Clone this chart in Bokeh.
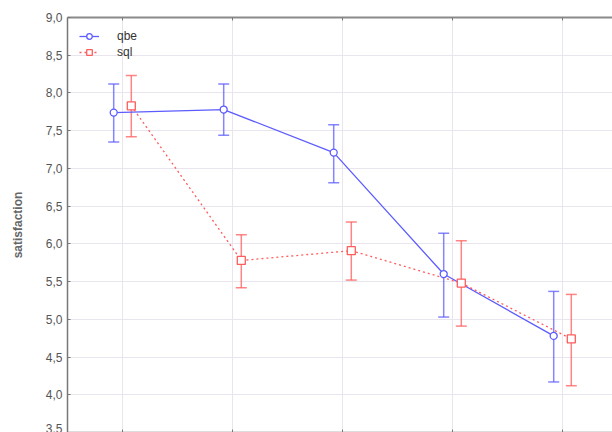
from bokeh.plotting import figure
from bokeh.models import (ColumnDataSource, Range1d, FixedTicker, LinearAxis,
                          Whisker, TeeHead, Legend, LegendItem)
from bokeh.embed import file_html
from bokeh.resources import INLINE

# ---- data ----
categories = [0, 1, 2, 3, 4]
qbe_mean = [7.74, 7.78, 7.21, 5.60, 4.78]
qbe_low = [7.35, 7.44, 6.81, 5.03, 4.17]
qbe_high = [8.12, 8.12, 7.58, 6.14, 5.37]
sql_mean = [7.83, 5.78, 5.91, 5.48, 4.74]
sql_low = [7.42, 5.42, 5.52, 4.91, 4.12]
sql_high = [8.23, 6.12, 6.29, 6.04, 5.33]
y_ticks = [3.5, 4.0, 4.5, 5.0, 5.5, 6.0, 6.5, 7.0, 7.5, 8.0, 8.5, 9.0]
y_tick_labels = ["3,5", "4,0", "4,5", "5,0", "5,5", "6,0", "6,5", "7,0",
                 "7,5", "8,0", "8,5", "9,0"]
series_names = ["qbe", "sql"]
y_label = "satisfaction"

BLUE = "#5c5cff"
RED = "#ff5c5c"
FONT = "Liberation Sans"
OFFSET = 0.08

src_q = ColumnDataSource(dict(x=[c - OFFSET for c in categories], y=qbe_mean,
                              lo=qbe_low, hi=qbe_high))
src_s = ColumnDataSource(dict(x=[c + OFFSET for c in categories], y=sql_mean,
                              lo=sql_low, hi=sql_high))

p = figure(width=612, height=432, output_backend="svg", toolbar_location=None,
           x_range=Range1d(-0.5, -0.5 + 545 / 110), y_range=Range1d(3.5, 9.0),
           x_axis_location=None, y_axis_location=None,
           min_border_left=67, min_border_right=0, min_border_top=17,
           min_border_bottom=0)
p.outline_line_color = None
p.background_fill_color = "white"
p.border_fill_color = "white"

# axes
left = LinearAxis(ticker=FixedTicker(ticks=y_ticks),
                  major_label_overrides={t: l for t, l in zip(y_ticks, y_tick_labels)})
left.axis_label = y_label
left.axis_label_text_font = FONT
left.axis_label_text_font_size = "12px"
left.axis_label_text_font_style = "bold"
left.axis_label_text_color = "#666666"
left.axis_label_standoff = 18
left.major_label_text_font = FONT
left.major_label_text_font_size = "12px"
left.major_label_text_color = "#555555"
left.major_label_standoff = 5
left.major_tick_in = 3
left.major_tick_out = 0
left.minor_tick_line_color = None
left.axis_line_color = "#777777"
left.axis_line_width = 1.5
left.major_tick_line_color = "#777777"
p.add_layout(left, "left")


def spine_axis(color, width):
    ax = LinearAxis(ticker=FixedTicker(ticks=categories),
                    major_label_overrides={c: "" for c in categories})
    ax.major_label_standoff = 0
    ax.major_tick_in = 3
    ax.major_tick_out = 0
    ax.minor_tick_line_color = None
    ax.axis_line_color = color
    ax.axis_line_width = width
    ax.major_tick_line_color = "#777777"
    return ax


p.add_layout(spine_axis("#777777", 1.5), "below")
p.add_layout(spine_axis("#8a8a8a", 2), "above")

# grids
p.xgrid.ticker = FixedTicker(ticks=categories)
p.ygrid.ticker = FixedTicker(ticks=y_ticks)
p.xgrid.grid_line_color = "#e9e5ee"
p.ygrid.grid_line_color = "#e9e5ee"

# error bars
for src, col in ((src_q, BLUE), (src_s, RED)):
    w = Whisker(source=src, base="x", lower="lo", upper="hi",
                line_color=col, line_width=1.5, line_alpha=0.75,
                upper_head=TeeHead(size=11, line_color=col, line_width=1.5, line_alpha=0.75),
                lower_head=TeeHead(size=11, line_color=col, line_width=1.5, line_alpha=0.75))
    p.add_layout(w)

lq = p.line("x", "y", source=src_q, line_color=BLUE, line_width=1.3)
ls = p.line("x", "y", source=src_s, line_color=RED, line_width=1.3,
            line_dash="2 3")
mq = p.scatter("x", "y", source=src_q, marker="circle", size=7,
               line_color=BLUE, line_width=1.3, fill_color="white")
ms = p.scatter("x", "y", source=src_s, marker="square", size=8,
               line_color=RED, line_width=1.3, fill_color="white")

legend = Legend(items=[LegendItem(label=series_names[0], renderers=[lq, mq]),
                       LegendItem(label=series_names[1], renderers=[ls, ms])],
                location="top_left", margin=12, padding=0, spacing=2,
                glyph_width=20, glyph_height=14, label_height=14,
                label_standoff=18, label_text_font=FONT,
                label_text_font_size="12px", label_text_color="#333333",
                background_fill_alpha=0, border_line_color=None)
p.add_layout(legend)

open("out.html", "w").write(file_html(p, INLINE))
